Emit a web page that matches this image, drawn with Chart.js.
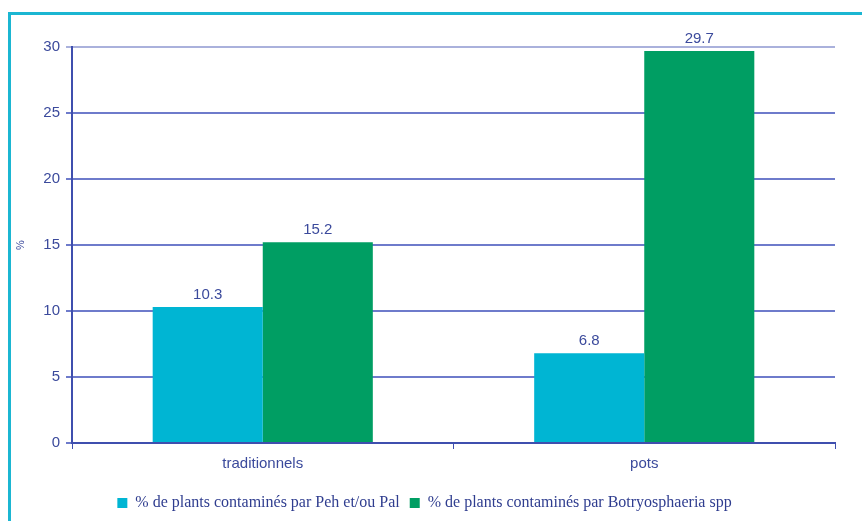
<!DOCTYPE html>
<html>
<head>
<meta charset="utf-8">
<script src="https://cdn.jsdelivr.net/npm/chart.js@4"></script>
<style>
  html, body { margin: 0; padding: 0; background: #fff; }
  #wrap { position: relative; width: 862px; height: 521px; overflow: hidden; }
  #frame { position: absolute; left: 8px; top: 12px; width: 900px; height: 600px;
           border-left: 3px solid #1bb6d2; border-top: 3px solid #1bb6d2; }
  canvas { position: absolute; left: 0; top: 0; }
</style>
</head>
<body>
<div id="wrap">
  <div id="frame"></div>
  <canvas id="chart" width="862" height="521"></canvas>
</div>
<script>
// === Daten ===
const categories = ['traditionnels', 'pots'];
const pehPal = [10.3, 6.8];
const botryo = [15.2, 29.7];
const seriesNames = [
  '% de plants contaminés par Peh et/ou Pal',
  '% de plants contaminés par Botryosphaeria spp'
];
const yTicks = [0, 5, 10, 15, 20, 25, 30];

const axisBlue = '#3f4fae';
const textBlue = '#3b4a9c';

// Werte über den Balken
const valueLabels = {
  id: 'valueLabels',
  afterDatasetsDraw(chart) {
    const ctx = chart.ctx;
    ctx.save();
    ctx.font = '15px Arial, "Liberation Sans", sans-serif';
    ctx.fillStyle = textBlue;
    ctx.textAlign = 'center';
    ctx.textBaseline = 'bottom';
    chart.data.datasets.forEach((ds, i) => {
      chart.getDatasetMeta(i).data.forEach((bar, j) => {
        ctx.fillText(ds.data[j].toFixed(1), bar.x, bar.y - 5);
      });
    });
    ctx.restore();
  }
};

const ctx = document.getElementById('chart').getContext('2d');
new Chart(ctx, {
  type: 'bar',
  data: {
    labels: categories,
    datasets: [
      { label: seriesNames[0], data: pehPal, backgroundColor: '#00b5d3',
        categoryPercentage: 0.577, barPercentage: 1 },
      { label: seriesNames[1], data: botryo, backgroundColor: '#009e63',
        categoryPercentage: 0.577, barPercentage: 1 }
    ]
  },
  options: {
    responsive: false,
    animation: false,
    layout: { padding: { left: 14, top: 47, right: 27, bottom: 0 } },
    plugins: {
      tooltip: { enabled: false },
      legend: {
        position: 'bottom',
        labels: {
          boxWidth: 10, boxHeight: 10, padding: 10,
          color: '#2f3d8f',
          font: { family: '"Liberation Serif", "Times New Roman", serif', size: 16 }
        }
      }
    },
    scales: {
      x: {
        afterFit: s => { s.height = 42; },
        border: { color: axisBlue, width: 2 },
        grid: { offset: true, drawOnChartArea: false, tickLength: 6, color: axisBlue },
        ticks: { color: textBlue, padding: 6,
                 font: { family: 'Arial, "Liberation Sans", sans-serif', size: 15 } }
      },
      y: {
        min: 0, max: 30,
        afterFit: s => { s.width = 58; },
        afterBuildTicks: s => { s.ticks = yTicks.map(v => ({ value: v })); },
        border: { color: axisBlue, width: 2 },
        grid: {
          color: c => c.tick && c.tick.value === 30 ? '#aab1dc' : '#6e7bcb',
          lineWidth: 2, tickLength: 6
        },
        ticks: { color: textBlue, padding: 6,
                 font: { family: 'Arial, "Liberation Sans", sans-serif', size: 15 } },
        title: { display: true, text: '%', color: textBlue, padding: 0,
                 font: { family: 'Arial, sans-serif', size: 11 } }
      }
    }
  },
  plugins: [valueLabels]
});
</script>
</body>
</html>
